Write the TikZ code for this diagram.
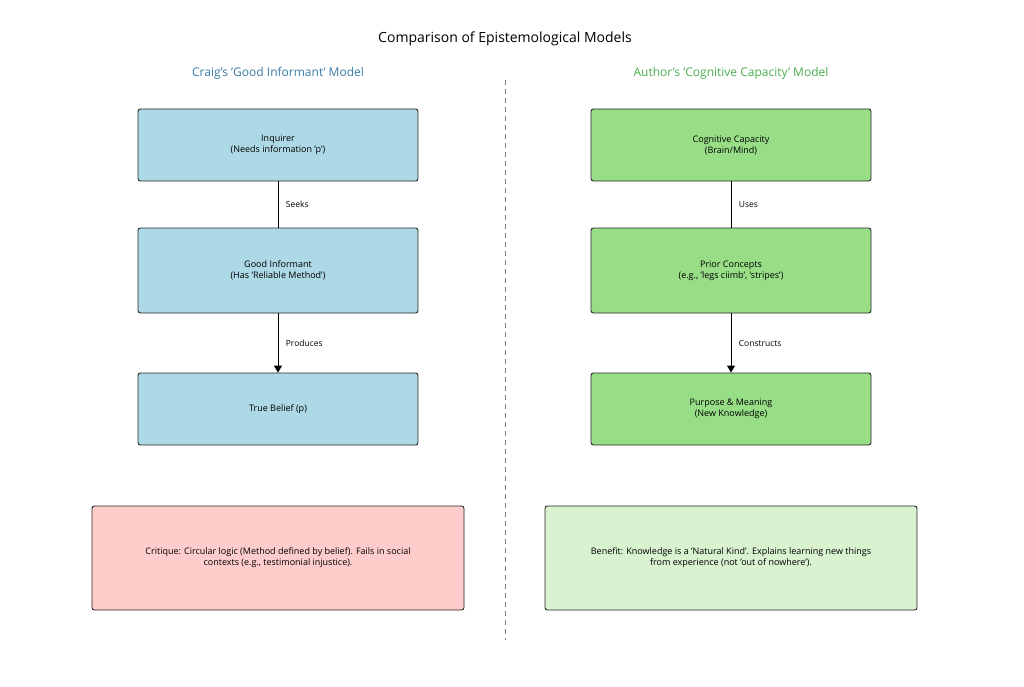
\documentclass[tikz,border=0pt]{standalone}
\usepackage{fontspec}
\setmainfont{Open Sans}
\usetikzlibrary{arrows.meta}
\definecolor{bluebox}{HTML}{ADD8E6}
\definecolor{greenbox}{HTML}{97DE87}
\definecolor{pinkbox}{HTML}{FFCCCC}
\definecolor{lightgreen}{HTML}{D9F2D0}
\definecolor{titleblue}{HTML}{3A7CA5}
\definecolor{titlegreen}{HTML}{4CAF50}
\tikzset{
 box/.style={draw=black!85, line width=0.9pt, rounded corners=2.5pt, minimum width=280pt, minimum height=72pt, align=center, font=\fontsize{9}{11}\selectfont, inner sep=2pt},
 bigbox/.style={draw=black!85, line width=0.9pt, rounded corners=2.5pt, minimum width=372pt, minimum height=104pt, align=center, font=\fontsize{9}{11}\selectfont},
 conn/.style={line width=1pt, black},
 lbl/.style={font=\fontsize{8.5}{10}\selectfont, anchor=west}
}
\begin{document}
\begin{tikzpicture}[x=1pt,y=-1pt]
\useasboundingbox (0,0) rectangle (1024,687);
\fill[white] (0,0) rectangle (1024,687);
\node[font=\fontsize{14}{16}\selectfont] (title) at (505,39) {Comparison of Epistemological Models};
\node[font=\fontsize{12}{14}\selectfont, text=titleblue] (lt) at (278,73) {Craig's 'Good Informant' Model};
\node[font=\fontsize{12}{14}\selectfont, text=titlegreen] (rt) at (731,73) {Author's 'Cognitive Capacity' Model};
\coordinate (d1) at (505,80); \coordinate (d2) at (505,640);
\draw[gray, dashed, line width=1pt, dash pattern=on 5pt off 4pt] (d1) -- (d2);
% left
\node[box, fill=bluebox, minimum height=72pt] (a1) at (278,145) {Inquirer\\(Needs information 'p')};
\node[box, fill=bluebox, minimum height=85pt] (a2) at (278,270.5) {Good Informant\\(Has 'Reliable Method')};
\node[box, fill=bluebox, minimum height=72pt] (a3) at (278,409) {True Belief (p)};
\draw[conn] (a1) -- node[lbl, xshift=4pt]{Seeks} (a2);
\draw[conn, -{Triangle[length=7pt,width=8pt]}] (a2) -- node[lbl, xshift=4pt]{Produces} (a3);
\node[bigbox, fill=pinkbox] (c1) at (278,558) {Critique: Circular logic (Method defined by belief). Fails in social\\contexts (e.g., testimonial injustice).};
% right
\node[box, fill=greenbox, minimum height=72pt] (b1) at (731,145) {Cognitive Capacity\\(Brain/Mind)};
\node[box, fill=greenbox, minimum height=85pt] (b2) at (731,270.5) {Prior Concepts\\(e.g., 'legs ciimb', 'stripes')};
\node[box, fill=greenbox, minimum height=72pt] (b3) at (731,409) {Purpose \& Meaning\\(New Knowledge)};
\draw[conn] (b1) -- node[lbl, xshift=4pt]{Uses} (b2);
\draw[conn, -{Triangle[length=7pt,width=8pt]}] (b2) -- node[lbl, xshift=4pt]{Constructs} (b3);
\node[bigbox, fill=lightgreen] (c2) at (731,558) {Benefit: Knowledge is a 'Natural Kind'. Explains learning new things\\from experience (not 'out of nowhere').};
\end{tikzpicture}
\end{document}
